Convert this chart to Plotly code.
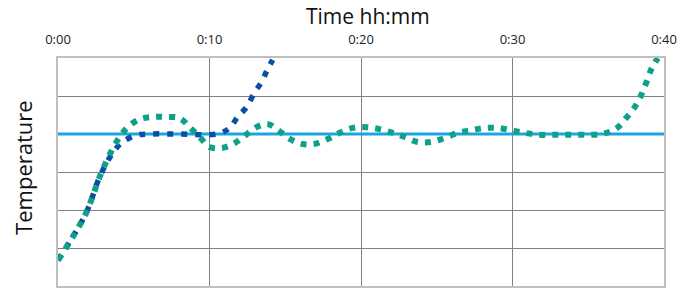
import plotly.graph_objects as go

# minutes
tick_vals = [0, 10, 20, 30, 40]
tick_text = ["0:00", "0:10", "0:20", "0:30", "0:40"]

setpoint_t = [0, 40]
setpoint_y = [4, 4]

blue_t = [0, 0.97, 1.89, 2.75, 3.61, 4.27, 5.2, 6.05, 8.0, 10.5, 11.33, 11.86, 12.45, 12.98, 13.44, 13.78, 14.17]
blue_y = [0.68, 1.29, 1.95, 2.87, 3.5, 3.79, 3.97, 4.0, 4.0, 4.0, 4.16, 4.45, 4.71, 5.1, 5.37, 5.66, 5.95]

green_t = [0, 0.97, 1.89, 2.75, 3.4, 4.07, 4.6, 5.4, 6.25, 7.15, 8.03, 8.69, 9.35, 10.0, 10.8, 11.66,
           12.32, 13.1, 13.84, 14.6, 15.3, 16.08, 16.94, 17.8, 18.6, 19.45, 20.36, 21.2, 22.1, 22.9,
           23.74, 24.65, 25.5, 26.4, 27.3, 28.16, 29.0, 29.9, 30.8, 31.7, 32.6, 33.4, 34.3, 35.3,
           36.2, 36.9, 37.5, 38.07, 38.5, 38.85, 39.2, 39.6]
green_y = [0.68, 1.29, 1.95, 2.87, 3.45, 3.92, 4.18, 4.39, 4.45, 4.45, 4.42, 4.18, 3.92, 3.66, 3.63, 3.76,
           3.95, 4.18, 4.26, 4.08, 3.87, 3.74, 3.74, 3.87, 4.03, 4.16, 4.18, 4.13, 4.03, 3.92,
           3.79, 3.79, 3.89, 4.03, 4.1, 4.16, 4.16, 4.1, 4.03, 3.98, 3.98, 3.98, 3.98, 3.98,
           4.03, 4.16, 4.42, 4.71, 5.03, 5.37, 5.74, 6.0]

fig = go.Figure()
fig.add_trace(go.Scatter(x=setpoint_t, y=setpoint_y, mode="lines",
                         line=dict(color="#1aa6df", width=3), hoverinfo="skip"))
fig.add_trace(go.Scatter(x=blue_t, y=blue_y, mode="lines", line_shape="spline",
                         line=dict(color="#0a4fa3", width=5.5, dash="6px,8px")))
fig.add_trace(go.Scatter(x=green_t, y=green_y, mode="lines", line_shape="spline",
                         line=dict(color="#0fa08c", width=6, dash="6px,7px")))

font_family = "Open Sans, Lato, sans-serif"
fig.update_layout(
    width=692, height=289,
    margin=dict(l=58, r=28, t=58, b=3),
    paper_bgcolor="white", plot_bgcolor="white",
    showlegend=False,
    font=dict(family=font_family, color="#222222"),
    xaxis=dict(side="top", range=[0, 40], tickvals=tick_vals, ticktext=tick_text,
               showgrid=True, gridcolor="#808080", gridwidth=1, zeroline=False,
               showline=True, mirror=True, linecolor="#bfbfbf", linewidth=2,
               automargin=False,
               ticks="", ticklabelstandoff=7, tickfont=dict(size=13, color="#222222")),
    yaxis=dict(range=[0, 6], dtick=1, showticklabels=False, automargin=False,
               showgrid=True, gridcolor="#808080", gridwidth=1, zeroline=False,
               showline=True, mirror=True, linecolor="#bfbfbf", linewidth=2, ticks=""),
    annotations=[
        dict(text="Time hh:mm", xref="paper", yref="paper", x=0.512, y=1.186,
             xanchor="center", yanchor="middle", showarrow=False,
             font=dict(size=21, color="#111111", family=font_family)),
        dict(text="Temperature", xref="paper", yref="paper", x=-0.057, y=0.52,
             xanchor="center", yanchor="middle", showarrow=False, textangle=-90,
             font=dict(size=22, color="#111111", family=font_family)),
    ],
)

fig.write_html("out.html", config={"displayModeBar": False},
               post_script="document.body.style.margin='0px';")
